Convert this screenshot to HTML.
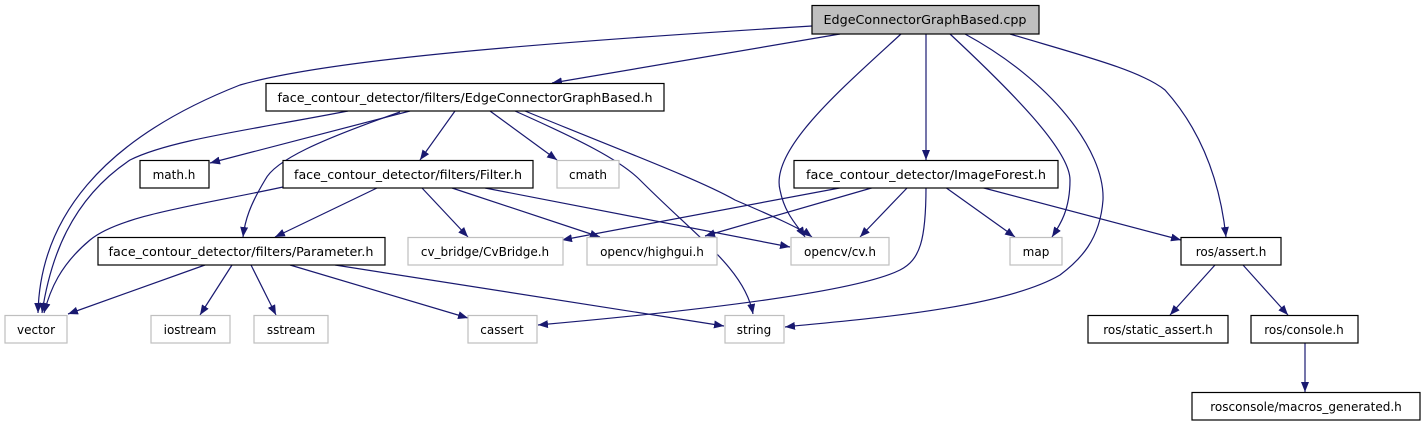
<!DOCTYPE html>
<html><head><meta charset="utf-8"><style>
html,body{margin:0;padding:0;background:#fff;width:1423px;height:427px;overflow:hidden}
svg text{font-family:"DejaVu Sans","Liberation Sans",sans-serif;font-size:12px;fill:#000}
</style></head><body>
<svg width="1423" height="427" viewBox="0 0 1423 427" xmlns="http://www.w3.org/2000/svg">
<defs>
<marker id="a" viewBox="0 0 10 8" refX="10" refY="4" markerWidth="10" markerHeight="8" markerUnits="userSpaceOnUse" orient="auto">
<path d="M0,0 L10,4 L0,8 z" fill="#191970"/>
</marker>
</defs>
<g fill="none" stroke="#191970" stroke-width="1.2" marker-end="url(#a)">
<path d="M812,26 C500,45 320,62 240,85 C100,140 40,220 38,313"/>
<path d="M840,34 L552,83"/>
<path d="M901,34 C840,90 770,150 780,190 C785,215 798,226 805,237"/>
<path d="M926,34 L926,160"/>
<path d="M950,34 C1010,90 1070,150 1070,180 C1070,210 1060,225 1052,237"/>
<path d="M965,34 C1050,80 1105,150 1103,200 C1100,240 1080,260 1060,275 C1000,310 850,320 785,327"/>
<path d="M1010,34 C1080,55 1140,70 1165,90 C1210,140 1222,200 1226,237"/>
<path d="M348,111 C250,130 170,140 130,160 C70,200 50,260 42,313"/>
<path d="M410,111 L210,163"/>
<path d="M400,112 C320,140 275,160 265,180 C250,205 245,220 243,237"/>
<path d="M455,111 L420,160"/>
<path d="M490,111 L557,160"/>
<path d="M515,111 C580,140 620,160 640,180 C700,240 745,270 753,314"/>
<path d="M525,111 C620,150 700,180 735,200 C770,215 800,228 812,237"/>
<path d="M283,187 C200,205 120,215 90,240 C60,265 50,290 44,313"/>
<path d="M377,188 L275,237"/>
<path d="M422,188 L468,237"/>
<path d="M452,188 L600,237"/>
<path d="M485,188 L790,247"/>
<path d="M845,187 L562,240"/>
<path d="M875,187 L705,236"/>
<path d="M908,187 L860,237"/>
<path d="M926,187 C926,240 920,260 900,270 C850,295 650,315 538,325"/>
<path d="M945,187 L1015,237"/>
<path d="M980,187 L1181,240"/>
<path d="M205,265 L68,314"/>
<path d="M232,265 L200,315"/>
<path d="M251,265 L276,315"/>
<path d="M290,265 L468,318"/>
<path d="M335,265 L724,326"/>
<path d="M1215,265 L1170,315"/>
<path d="M1243,265 L1288,315"/>
<path d="M1305,343 L1305,392"/>
</g>
<g stroke-width="1.2">
<rect x="812" y="5.5" width="227" height="28.5" fill="#bfbfbf" stroke="#000"/>
<rect x="266" y="83.5" width="398" height="27.5" fill="#fff" stroke="#000"/>
<rect x="140" y="160.5" width="69" height="27.5" fill="#fff" stroke="#000"/>
<rect x="283" y="160.5" width="250" height="27.5" fill="#fff" stroke="#000"/>
<rect x="557" y="160.5" width="62" height="27.5" fill="#fff" stroke="#bfbfbf"/>
<rect x="794" y="160.5" width="264" height="27.5" fill="#fff" stroke="#000"/>
<rect x="98" y="237.5" width="287" height="27.5" fill="#fff" stroke="#000"/>
<rect x="408" y="237.5" width="155" height="27.5" fill="#fff" stroke="#bfbfbf"/>
<rect x="587" y="237.5" width="130" height="27.5" fill="#fff" stroke="#bfbfbf"/>
<rect x="791" y="237.5" width="98" height="27.5" fill="#fff" stroke="#bfbfbf"/>
<rect x="1010" y="237.5" width="52" height="27.5" fill="#fff" stroke="#bfbfbf"/>
<rect x="1181" y="237.5" width="100" height="27.5" fill="#fff" stroke="#000"/>
<rect x="5" y="315.5" width="62" height="27.5" fill="#fff" stroke="#bfbfbf"/>
<rect x="151" y="315.5" width="79" height="27.5" fill="#fff" stroke="#bfbfbf"/>
<rect x="254" y="315.5" width="74" height="27.5" fill="#fff" stroke="#bfbfbf"/>
<rect x="468" y="315.5" width="69" height="27.5" fill="#fff" stroke="#bfbfbf"/>
<rect x="725" y="315.5" width="59" height="27.5" fill="#fff" stroke="#bfbfbf"/>
<rect x="1088" y="315.5" width="140" height="27.5" fill="#fff" stroke="#000"/>
<rect x="1251" y="315.5" width="107" height="27.5" fill="#fff" stroke="#000"/>
<rect x="1192" y="392.5" width="228" height="27.5" fill="#fff" stroke="#000"/>
</g>
<g text-anchor="middle">
<text x="925" y="24" textLength="203" lengthAdjust="spacingAndGlyphs">EdgeConnectorGraphBased.cpp</text>
<text x="465" y="102" textLength="375" lengthAdjust="spacingAndGlyphs">face_contour_detector/filters/EdgeConnectorGraphBased.h</text>
<text x="174" y="179">math.h</text>
<text x="408" y="179" textLength="228" lengthAdjust="spacingAndGlyphs">face_contour_detector/filters/Filter.h</text>
<text x="588" y="179">cmath</text>
<text x="926" y="179" textLength="240" lengthAdjust="spacingAndGlyphs">face_contour_detector/ImageForest.h</text>
<text x="241" y="256" textLength="265" lengthAdjust="spacingAndGlyphs">face_contour_detector/filters/Parameter.h</text>
<text x="485" y="256" fill="#000">cv_bridge/CvBridge.h</text>
<text x="652" y="256">opencv/highgui.h</text>
<text x="840" y="256">opencv/cv.h</text>
<text x="1036" y="256">map</text>
<text x="1231" y="256">ros/assert.h</text>
<text x="36" y="334">vector</text>
<text x="190" y="334">iostream</text>
<text x="291" y="334">sstream</text>
<text x="502" y="334">cassert</text>
<text x="754" y="334">string</text>
<text x="1158" y="334">ros/static_assert.h</text>
<text x="1304" y="334">ros/console.h</text>
<text x="1306" y="411">rosconsole/macros_generated.h</text>
</g>
</svg>
</body></html>
